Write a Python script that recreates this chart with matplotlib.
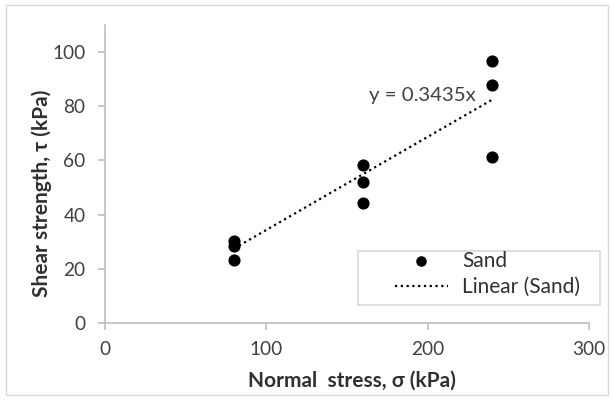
import matplotlib
matplotlib.use("Agg")
from matplotlib import pyplot as plt
from matplotlib.patches import Rectangle
import numpy as np

plt.rcParams['font.family'] = ['Lato', 'DejaVu Sans']

normal_stress = [80, 80, 80, 160, 160, 160, 240, 240, 240]
shear_strength = [30.2, 28.3, 23.2, 58.3, 51.9, 44.2, 96.8, 87.8, 61.4]
slope = 0.3435
trend_x = [80, 240]
x_ticks = [0, 100, 200, 300]
y_ticks = [0, 20, 40, 60, 80, 100]

fig = plt.figure(figsize=(6.14, 4.0), dpi=100)
ax = fig.add_axes([105/614, 1 - 323/400, 484/614, 298/400])
fig.patches.append(Rectangle((6/614, 5/400), 602/614, 390/400, transform=fig.transFigure,
                             fill=False, edgecolor='#d9d9d9', linewidth=1))

ax.scatter(normal_stress, shear_strength, s=60, color='black', zorder=3, label='Sand')
tx = np.array(trend_x)
ax.plot(tx, slope * tx, linestyle=(0, (1, 1.6)), color='black', linewidth=1.6, label='Linear (Sand)')
ax.text(229.5, 84, 'y = 0.3435x', ha='right', va='center', fontsize=14.7, color='#404040')

ax.set_xlim(0, 300)
ax.set_ylim(0, 110)
ax.set_xticks(x_ticks)
ax.set_yticks(y_ticks)
for s in ['top', 'right']:
    ax.spines[s].set_visible(False)
for s in ['left', 'bottom']:
    ax.spines[s].set_color('#bfbfbf')
    ax.spines[s].set_linewidth(1.2)
ax.tick_params(colors='#bfbfbf', labelcolor='#404040', labelsize=13.7, length=5, width=1.2)
ax.tick_params(axis='x', pad=8)
ax.tick_params(axis='y', pad=9)
ax.set_xlabel('Normal  stress, σ (kPa)', fontsize=15, fontweight='bold', color='#303030', va='center')
ax.set_ylabel('Shear strength, τ (kPa)', fontsize=15, fontweight='bold', color='#303030', va='center')
ax.xaxis.set_label_coords(0.511, -0.195)
ax.yaxis.set_label_coords(-0.130, 0.436)

# legend frame drawn separately so the box can be wider than its contents
ax.add_patch(Rectangle((0.523, 0.060), 0.5, 0.181, transform=ax.transAxes, fill=False,
                       edgecolor='#d9d9d9', linewidth=1.2, clip_on=False, zorder=4))
leg = ax.legend(loc='upper left', bbox_to_anchor=(0.599, 0.243), fontsize=15, frameon=False,
                borderpad=0, borderaxespad=0, handlelength=2.55, handletextpad=0.67,
                labelspacing=0.3, markerscale=0.85)
for t in leg.get_texts():
    t.set_color('#303030')

fig.savefig('out.png', dpi=100)
